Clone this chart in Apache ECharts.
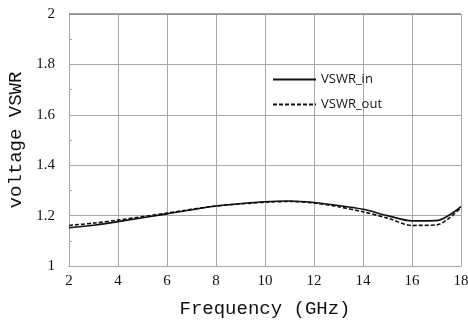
<!DOCTYPE html>
<html>
<head>
<meta charset="utf-8">
<script src="https://cdn.jsdelivr.net/npm/echarts@6/dist/echarts.min.js"></script>
<style>
  html, body { margin: 0; padding: 0; background: #fff; }
  #chart { width: 468px; height: 320px; }
</style>
</head>
<body>
<div id="chart"></div>
<script>
// frequency points (GHz)
const freq = [2, 3, 4, 6, 8, 10, 11, 12, 13, 14, 15, 16, 17, 18];
const vswrIn = [1.152, 1.162, 1.176, 1.207, 1.238, 1.255, 1.258, 1.252, 1.24, 1.225, 1.2, 1.179, 1.18, 1.236];
const vswrOut = [1.161, 1.17, 1.182, 1.21, 1.238, 1.253, 1.256, 1.25, 1.235, 1.215, 1.19, 1.161, 1.163, 1.232];
const seriesNames = ['VSWR_in', 'VSWR_out'];

const gridColor = '#a8a8a8';

const chart = echarts.init(document.getElementById('chart'), null, { renderer: 'canvas' });

chart.setOption({
  backgroundColor: '#fff',
  animation: false,
  grid: { left: 69, right: 7, top: 14, bottom: 54, outerBoundsMode: 'none' },
  legend: {
    orient: 'vertical',
    left: 267,
    top: 68,
    itemWidth: 43,
    itemHeight: 14,
    itemGap: 12,
    itemStyle: { opacity: 0 },
    textStyle: { fontFamily: 'Open Sans', fontSize: 13, color: '#111' },
    data: seriesNames
  },
  xAxis: {
    type: 'value',
    min: 2,
    max: 18,
    interval: 2,
    name: 'Frequency (GHz)',
    nameLocation: 'middle',
    nameGap: 33,
    nameTextStyle: { fontFamily: 'Liberation Mono', fontSize: 19, color: '#111' },
    axisLine: { lineStyle: { color: gridColor, width: 1 } },
    axisTick: { show: false },
    axisLabel: { fontFamily: 'Liberation Serif', fontSize: 15, color: '#111', margin: 8 },
    splitLine: { lineStyle: { color: gridColor, width: 1 } }
  },
  yAxis: {
    type: 'value',
    min: 1,
    max: 2,
    interval: 0.2,
    name: 'voltage VSWR',
    nameLocation: 'middle',
    nameGap: 35,
    nameTextStyle: { fontFamily: 'Liberation Mono', fontSize: 19, color: '#111' },
    axisLine: { show: true, lineStyle: { color: gridColor, width: 1 } },
    axisTick: { show: false },
    minorTick: { show: true, splitNumber: 2, length: -3, lineStyle: { color: gridColor } },
    axisLabel: {
      fontFamily: 'Liberation Serif', fontSize: 15, color: '#111', margin: 14,
      formatter: (v) => String(Math.round(v * 10) / 10)
    },
    splitLine: { lineStyle: { color: gridColor, width: 1 } }
  },
  series: [
    {
      name: seriesNames[0],
      type: 'line',
      symbol: 'none',
      smooth: 0.3,
      data: freq.map((f, i) => [f, vswrIn[i]]),
      lineStyle: { color: '#111', width: 1.6, type: 'solid' },
      itemStyle: { color: '#111' },
      z: 3
    },
    {
      name: seriesNames[1],
      type: 'line',
      symbol: 'none',
      smooth: 0.3,
      data: freq.map((f, i) => [f, vswrOut[i]]),
      lineStyle: { color: '#111', width: 1.6, type: [4, 2] },
      itemStyle: { color: '#111' },
      z: 3
    }
  ],
  graphic: [
    // darker top frame line of the plot area
    { type: 'line', shape: { x1: 69, y1: 14, x2: 461, y2: 14 }, style: { stroke: '#888', lineWidth: 1.5 }, z: 5 }
  ]
});
</script>
</body>
</html>
